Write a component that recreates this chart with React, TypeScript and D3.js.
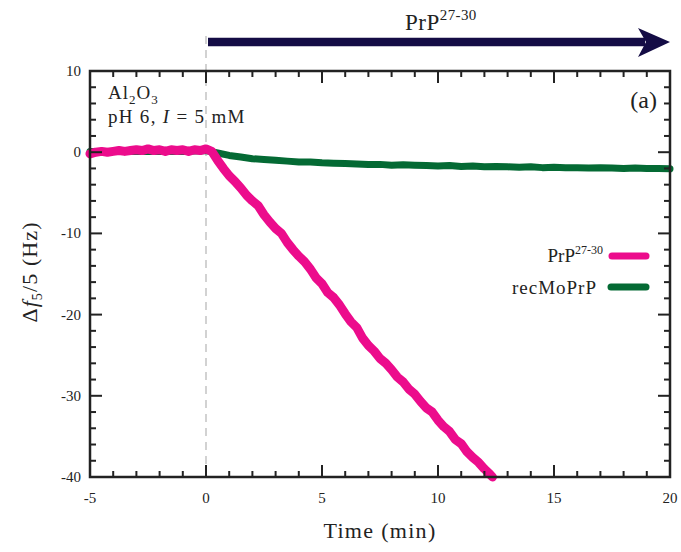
import React from "react";
import * as d3 from "d3";

const prpT = [-5,-4.75,-4.5,-4.25,-4,-3.75,-3.5,-3.25,-3,-2.75,-2.5,-2.25,-2,-1.75,-1.5,-1.25,-1,-0.75,-0.5,-0.25,0,0.25,0.5,0.75,1,1.25,1.5,1.75,2,2.25,2.5,2.75,3,3.25,3.5,3.75,4,4.25,4.5,4.75,5,5.25,5.5,5.75,6,6.25,6.5,6.75,7,7.25,7.5,7.75,8,8.25,8.5,8.75,9,9.25,9.5,9.75,10,10.25,10.5,10.75,11,11.25,11.5,11.75,12,12.25,12.35];
const prpV = [-0.2,0.0,0.1,0.0,0.1,0.2,0.1,0.2,0.3,0.2,0.4,0.2,0.3,0.1,0.3,0.2,0.3,0.1,0.3,0.2,0.4,0.1,-1.0,-2.0,-2.9,-3.6,-4.4,-5.3,-6.0,-6.6,-7.7,-8.6,-9.4,-10.0,-11.1,-12.0,-12.8,-13.5,-14.4,-15.5,-16.2,-17.3,-17.9,-18.8,-19.9,-20.9,-21.6,-22.9,-23.8,-24.5,-25.4,-26.0,-26.8,-27.7,-28.3,-29.2,-29.8,-30.7,-31.5,-32.0,-33.0,-33.8,-34.4,-35.4,-35.9,-36.9,-37.6,-38.2,-39.0,-39.7,-40.0];

const recT = [-5,-4,-3,-2,-1,0,0.5,1,1.5,2,2.5,3,3.5,4,4.5,5,5.5,6,6.5,7,7.5,8,8.5,9,9.5,10,10.5,11,11.5,12,12.5,13,13.5,14,14.5,15,15.5,16,16.5,17,17.5,18,18.5,19,19.5,20];
const recV = [0.1,0.1,0.1,0.1,0.1,0.2,-0.1,-0.4,-0.6,-0.8,-0.9,-1.0,-1.1,-1.2,-1.2,-1.3,-1.35,-1.4,-1.45,-1.5,-1.5,-1.6,-1.55,-1.6,-1.65,-1.7,-1.65,-1.75,-1.7,-1.8,-1.75,-1.8,-1.85,-1.8,-1.9,-1.85,-1.9,-1.9,-1.95,-1.9,-1.95,-2.0,-1.95,-2.0,-2.0,-2.05];

const xTicks = [-5,0,5,10,15,20];
const yTicks = [10,0,-10,-20,-30,-40];
const seriesNames = ["PrP", "recMoPrP"];
const colors = ["#ec0c8c", "#046a34"];

export default function App() {
  const W = 681, H = 552;
  const L = 90, R = 670, T = 71, B = 477;
  const x = d3.scaleLinear().domain([-5, 20]).range([L, R]);
  const y = d3.scaleLinear().domain([-40, 10]).range([B, T]);
  const line = d3.line<[number, number]>().x(d => x(d[0])).y(d => y(d[1]));
  const prp = prpT.map((t, i) => [t, prpV[i]] as [number, number]);
  const rec = recT.map((t, i) => [t, recV[i]] as [number, number]);
  const xMinor = d3.range(-5, 20.01, 1);
  const yMinor = d3.range(-40, 10.01, 2);
  const font = "'Liberation Serif', 'Times New Roman', serif";
  const ink = "#222";
  return (
    <svg width={W} height={H} style={{ position: "absolute", left: 0, top: 0 }} fontFamily={font}>
      <rect width={W} height={H} fill="#fff" />
      {/* dashed line at t=0 */}
      <line x1={x(0)} x2={x(0)} y1={36} y2={B} stroke="#bbb" strokeWidth={1.3} strokeDasharray="8,6" />
      {/* arrow */}
      <line x1={x(0) + 2} x2={645} y1={42} y2={42} stroke="#140c45" strokeWidth={8.5} />
      <path d="M638,28 L670,42 L638,57 L646,42 Z" fill="#140c45" />
      <text x={405} y={30} fontSize={23} fill={ink} letterSpacing={0.5}>
        PrP<tspan fontSize={15} dy={-10} letterSpacing={0.4}>27-30</tspan>
      </text>
      {/* data */}
      <path d={line(rec) || ""} fill="none" stroke={colors[1]} strokeWidth={7} strokeLinejoin="round" strokeLinecap="round" />
      <path d={line(prp) || ""} fill="none" stroke={colors[0]} strokeWidth={9} strokeLinejoin="round" strokeLinecap="round" />
      {/* frame */}
      <rect x={L} y={T} width={R - L} height={B - T} fill="none" stroke={ink} strokeWidth={2.5} />
      {xMinor.map(t => {
        const major = xTicks.includes(t);
        const len = major ? 12 : 6;
        return (
          <g key={"xt" + t}>
            <line x1={x(t)} x2={x(t)} y1={B} y2={B - len} stroke={ink} strokeWidth={2} />
            <line x1={x(t)} x2={x(t)} y1={T} y2={T + len} stroke={ink} strokeWidth={2} />
          </g>
        );
      })}
      {yMinor.map(v => {
        const major = yTicks.includes(v);
        const len = major ? 12 : 6;
        return (
          <g key={"yt" + v}>
            <line x1={L} x2={L + len} y1={y(v)} y2={y(v)} stroke={ink} strokeWidth={2} />
            <line x1={R} x2={R - len} y1={y(v)} y2={y(v)} stroke={ink} strokeWidth={2} />
          </g>
        );
      })}
      {xTicks.map(t => (
        <text key={"xl" + t} x={x(t)} y={503} textAnchor="middle" fontSize={15} fill={ink}>{t}</text>
      ))}
      {yTicks.map(v => (
        <text key={"yl" + v} x={81} y={y(v) + 5} textAnchor="end" fontSize={15} fill={ink}>{v}</text>
      ))}
      <text x={380} y={538} textAnchor="middle" fontSize={22} fill={ink} letterSpacing={1.3}>Time (min)</text>
      <text transform="translate(37,272) rotate(-90)" textAnchor="middle" fontSize={22} fill={ink} letterSpacing={1.1}>
        Δ<tspan fontStyle="italic">f</tspan><tspan fontSize={14} dy={5}>5</tspan><tspan dy={-5}>/5 (Hz)</tspan>
      </text>
      {/* annotations */}
      <text x={108} y={99} fontSize={19} fill={ink} letterSpacing={1}>
        Al<tspan fontSize={13} dy={5}>2</tspan><tspan dy={-5}>O</tspan><tspan fontSize={13} dy={5}>3</tspan>
      </text>
      <text x={108} y={123} fontSize={19} fill={ink} letterSpacing={1.3}>
        pH 6, <tspan fontStyle="italic">I</tspan> = 5 mM
      </text>
      <text x={657} y={108} textAnchor="end" fontSize={24} fill={ink}>(a)</text>
      {/* legend */}
      <text x={603} y={262} textAnchor="end" fontSize={19} fill={ink}>
        {seriesNames[0]}<tspan fontSize={12} dy={-8}>27-30</tspan>
      </text>
      <line x1={612} x2={646} y1={256} y2={256} stroke={colors[0]} strokeWidth={7} strokeLinecap="round" />
      <text x={597} y={294} textAnchor="end" fontSize={19} fill={ink} letterSpacing={1}>{seriesNames[1]}</text>
      <line x1={611} x2={646} y1={287} y2={287} stroke={colors[1]} strokeWidth={7} strokeLinecap="round" />
    </svg>
  );
}
